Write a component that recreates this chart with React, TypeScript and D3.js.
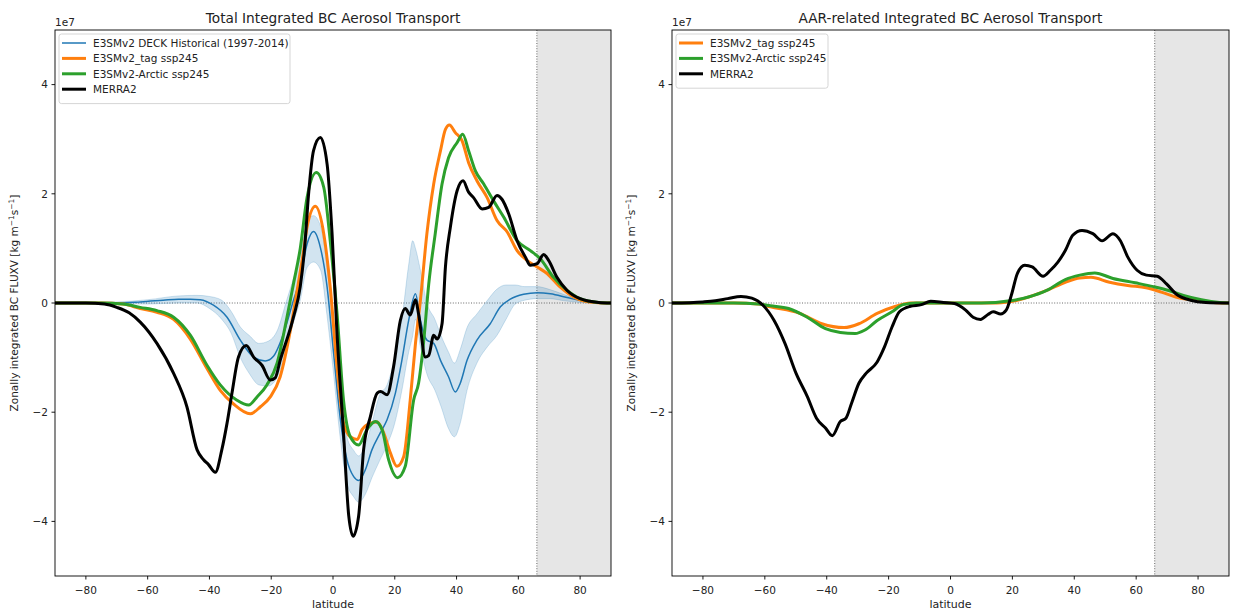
import React from "react";
import * as d3 from "d3";

const W = 1238;
const H = 611;
const FONT = "'DejaVu Sans', sans-serif";

// ---- Axis ticks ----
const xTicks = [-80, -60, -40, -20, 0, 20, 40, 60, 80];
const yTicks = [-4, -2, 0, 2, 4];
const arcticCircle = 66;

// ---- Total transport (values in units of 1e7 kg m^-1 s^-1) ----
const deckLat = [-90, -70, -62.4, -55, -50, -46.2, -43, -38.7, -34.3, -30, -25.7, -21.9, -19.2, -16, -12.8, -10.6, -8.4, -6.3, -4.1, -1.9, 0.2, 2.4, 4.5, 6.7, 8.3, 10.5, 12.6, 15.3, 17.5, 20.2, 22.3, 24.5, 26.7, 28.3, 30.4, 32.6, 34.8, 37.4, 39.6, 41.2, 43.4, 46.6, 50.9, 54.2, 57.4, 61.7, 66.1, 70.4, 75.8, 81.2, 86.6, 90];
const deckMean = [0, 0, 0.02, 0.05, 0.07, 0.07, 0.06, -0.04, -0.26, -0.68, -0.99, -1.06, -0.97, -0.56, 0.05, 0.45, 1.08, 1.31, 1.02, 0.29, -0.92, -2.14, -2.87, -3.18, -3.25, -3.05, -2.69, -2.38, -2.14, -1.65, -1.05, -0.32, 0.17, -0.32, -0.68, -0.74, -1.05, -1.35, -1.63, -1.47, -1.05, -0.68, -0.38, -0.07, 0.07, 0.16, 0.19, 0.17, 0.1, 0.03, 0, 0];

const deckBandLat = [-90, -70, -60, -50, -44, -40, -36, -33, -30, -27, -24, -21, -18, -15, -12.5, -10.6, -8.4, -6.3, -4, -2, 0, 2.4, 4.5, 6.7, 8.3, 10.5, 12.6, 15, 17.5, 20, 22.3, 24.5, 25.8, 26.7, 28.3, 30.4, 33, 35, 37.4, 39.3, 41.2, 43.4, 46.6, 50, 53, 56, 59, 62, 66, 70, 75, 80, 85, 90];
const deckLower = [0, -0.01, -0.02, 0.0, 0.0, -0.1, -0.3, -0.55, -1.0, -1.3, -1.5, -1.52, -1.35, -0.8, -0.3, 0.05, 0.65, 0.75, 0.6, -0.2, -1.2, -2.5, -3.3, -3.55, -3.65, -3.5, -3.2, -2.9, -2.6, -2.2, -1.6, -0.9, -0.6, -0.3, -0.8, -1.3, -1.6, -1.9, -2.3, -2.45, -2.2, -1.6, -1.1, -0.8, -0.6, -0.3, -0.02, 0.05, 0.08, 0.08, 0.04, 0.01, 0, 0];
const deckUpper = [0, 0.02, 0.06, 0.13, 0.14, 0.12, 0.05, -0.15, -0.44, -0.6, -0.74, -0.7, -0.5, 0.05, 0.5, 0.85, 1.5, 1.6, 1.4, 0.7, -0.4, -1.7, -2.45, -2.7, -2.8, -2.6, -2.2, -1.7, -1.5, -1.0, -0.3, 0.7, 1.14, 1.0, 0.6, 0.0, -0.3, -0.6, -0.9, -1.1, -0.85, -0.45, -0.2, 0.05, 0.25, 0.33, 0.33, 0.3, 0.3, 0.25, 0.15, 0.06, 0.02, 0];

const tagLat = [-90, -75, -68, -62.4, -57, -51.6, -46.2, -40.8, -36.5, -32.2, -26.8, -23.5, -20.3, -17.1, -13.8, -11.7, -9.5, -8.4, -5.7, -3.0, -0.9, 1.3, 3.4, 5.6, 7.8, 9.4, 12.1, 14.3, 16.4, 18.6, 20.7, 22.9, 25, 26.7, 28.3, 30.4, 32.6, 34.8, 36.4, 37.7, 39.6, 41.8, 43.9, 46.6, 49.9, 53.1, 56.4, 59.6, 62.8, 66.1, 69.3, 73.6, 77.9, 83, 90];
const tagTotal = [0, 0, -0.02, -0.1, -0.17, -0.3, -0.66, -1.2, -1.6, -1.85, -2.03, -1.9, -1.72, -1.35, -0.5, 0.2, 0.96, 1.39, 1.77, 1.27, 0.29, -1.17, -2.2, -2.45, -2.5, -2.32, -2.2, -2.18, -2.38, -2.75, -2.99, -2.81, -1.78, -0.74, 0.05, 1.27, 2.18, 2.79, 3.18, 3.26, 3.12, 2.97, 2.57, 2.24, 1.93, 1.51, 1.3, 0.96, 0.78, 0.66, 0.54, 0.29, 0.11, 0.02, 0];

const arcticLat = [-90, -75, -68, -62.4, -57, -51.6, -46.2, -40.8, -36.5, -31.1, -27.3, -24.6, -21.4, -18.1, -14.9, -12.8, -10.6, -8.4, -5.4, -3, -0.9, 1.3, 3.4, 5.6, 8.3, 11, 13.7, 15.9, 18, 20.9, 23.4, 26.1, 27.7, 29.3, 31, 33.1, 35.3, 37.4, 40.2, 42, 43.9, 46.1, 48.8, 52, 55.3, 59.6, 63.9, 67.1, 71.4, 75.8, 80, 86, 90];
const arcticTotal = [0, 0, -0.02, -0.08, -0.14, -0.26, -0.59, -1.14, -1.5, -1.78, -1.87, -1.72, -1.5, -1.1, -0.26, 0.35, 1.0, 1.93, 2.39, 2.12, 1.14, -0.19, -1.78, -2.45, -2.6, -2.32, -2.17, -2.32, -2.87, -3.2, -2.99, -1.78, -1.47, -0.74, 0.35, 1.27, 2.18, 2.66, 2.94, 3.09, 2.79, 2.42, 2.18, 1.87, 1.57, 1.14, 0.96, 0.81, 0.47, 0.23, 0.08, 0.01, 0];

const merraLat = [-90, -80, -74, -70, -66, -62.4, -57, -51.6, -47.3, -44, -41.9, -40.3, -38.1, -36, -34.3, -32.7, -30.6, -28.1, -25.7, -23, -20.3, -18.7, -17.1, -12.8, -10.6, -9.2, -7.9, -6.3, -4.1, -1.9, -0.3, 1.3, 3.4, 5.1, 6.5, 8.3, 9.9, 12.1, 14.3, 15.4, 17.5, 19.6, 21.8, 23.4, 25, 26.7, 27.7, 29.9, 31, 32.6, 33.7, 35.3, 36.4, 38, 40.2, 42.1, 43.9, 45.5, 48.3, 50.4, 53.1, 54.7, 56.9, 59.6, 62.3, 63.9, 66.1, 68.2, 69.8, 72.5, 75.8, 80, 86, 90];
const merraTotal = [0, 0, -0.02, -0.08, -0.18, -0.35, -0.74, -1.29, -1.9, -2.69, -2.87, -2.96, -3.1, -2.69, -2.2, -1.65, -0.99, -0.78, -0.99, -1.14, -1.41, -1.37, -1.05, -0.26, 0.3, 1.0, 2.0, 2.79, 3.03, 2.54, 1.27, -0.56, -2.38, -3.9, -4.27, -3.9, -2.69, -2.08, -1.65, -1.62, -1.68, -1.17, -0.32, -0.1, -0.22, 0.06, -0.2, -0.99, -0.96, -0.59, -0.66, -0.38, 0.66, 1.39, 2.06, 2.24, 2.03, 1.93, 1.72, 1.75, 1.97, 1.9, 1.63, 1.14, 0.84, 0.69, 0.72, 0.89, 0.78, 0.47, 0.23, 0.08, 0.01, 0];

// ---- AAR-related transport ----
const tagAarLat = [-90, -70, -62, -58.2, -48.7, -41.6, -34.4, -29.6, -23.7, -17.7, -13, 15, 21.6, 31.1, 37.1, 41.8, 45.4, 51.4, 57.3, 63.2, 68.1, 72.8, 78.9, 84.9, 90];
const tagAar = [0, 0, -0.02, -0.07, -0.19, -0.38, -0.45, -0.38, -0.19, -0.06, 0, 0, 0.05, 0.23, 0.38, 0.46, 0.47, 0.38, 0.32, 0.28, 0.2, 0.11, 0.05, 0.01, 0];

const arcticAarLat = [-90, -70, -62, -58.2, -52.3, -46.3, -40.4, -35.6, -30.8, -27.8, -23.7, -18.9, -15.3, -11, 10, 19.2, 25.2, 31.1, 37.1, 41.8, 46.6, 52.5, 59.7, 65.6, 70.5, 75.3, 81.1, 87, 90];
const arcticAar = [0, 0, -0.02, -0.05, -0.1, -0.26, -0.47, -0.54, -0.56, -0.5, -0.32, -0.16, -0.03, 0, 0, 0.04, 0.11, 0.23, 0.43, 0.51, 0.55, 0.45, 0.37, 0.3, 0.23, 0.14, 0.06, 0.01, 0];

const merraAarLat = [-90, -80, -76, -72, -67.7, -64.2, -60.6, -57, -53.5, -49.9, -46.3, -43.3, -40.4, -38.2, -35.6, -33.8, -32, -29.6, -27.3, -23.7, -21.3, -18.9, -16.5, -13, -9.4, -6.4, -2.3, 1.3, 4.9, 7.3, 9.7, 12.1, 13.8, 16.2, 18, 19.8, 21.6, 24, 26.4, 29.9, 32.3, 34.7, 37.1, 39.5, 42.5, 46, 49, 52.5, 54.9, 57.3, 60.3, 63.3, 66.8, 69.8, 72.8, 77.6, 82.5, 90];
const merraAar = [0, 0.02, 0.04, 0.08, 0.12, 0.09, -0.04, -0.32, -0.74, -1.29, -1.71, -2.11, -2.29, -2.43, -2.17, -2.11, -1.84, -1.47, -1.29, -1.08, -0.8, -0.44, -0.16, -0.06, -0.03, 0.03, 0.01, -0.01, -0.13, -0.26, -0.3, -0.21, -0.16, -0.2, -0.13, 0.17, 0.54, 0.69, 0.66, 0.49, 0.6, 0.75, 0.96, 1.24, 1.33, 1.27, 1.14, 1.27, 1.14, 0.84, 0.6, 0.51, 0.49, 0.35, 0.17, 0.05, 0.01, 0];

// ---- Styling ----
const C_BLUE = "#1f77b4";
const C_ORANGE = "#ff7f0e";
const C_GREEN = "#2ca02c";
const C_BLACK = "#000000";

type Series = { label: string; lat: number[]; val: number[]; color: string; width: number };
type Band = { lat: number[]; lo: number[]; hi: number[]; color: string };

const zip = (a: number[], b: number[]) => a.map((v, i) => [v, b[i]] as [number, number]);

const TOP = 30;
const BOTTOM = 576;

function Panel(props: {
  id: string;
  x0: number;
  x1: number;
  title: string;
  series: Series[];
  band?: Band;
  legendWidth: number;
}) {
  const { id, x0, x1, title, series, band, legendWidth } = props;
  const x = d3.scaleLinear().domain([-90, 90]).range([x0, x1]);
  const y = d3.scaleLinear().domain([-5, 5]).range([BOTTOM, TOP]);
  const line = d3
    .line<[number, number]>()
    .x((d) => x(d[0]))
    .y((d) => y(d[1]))
    .curve(d3.curveMonotoneX);
  const area = d3
    .area<[number, number, number]>()
    .x((d) => x(d[0]))
    .y0((d) => y(d[1]))
    .y1((d) => y(d[2]))
    .curve(d3.curveMonotoneX);
  const cx = (x0 + x1) / 2;
  const cy = (TOP + BOTTOM) / 2;
  const rowH = 15.4;
  const legX = x0 + 4;
  const legY = TOP + 4;
  const legH = 8 + series.length * rowH;
  const fs = 10.5;

  return (
    <g>
      <defs>
        <clipPath id={`clip-${id}`}>
          <rect x={x0} y={TOP} width={x1 - x0} height={BOTTOM - TOP} />
        </clipPath>
      </defs>
      <g clipPath={`url(#clip-${id})`}>
        <rect
          x={x(arcticCircle)}
          y={TOP}
          width={x(90) - x(arcticCircle)}
          height={BOTTOM - TOP}
          fill="#e6e6e6"
        />
        <line
          x1={x(arcticCircle)}
          x2={x(arcticCircle)}
          y1={TOP}
          y2={BOTTOM}
          stroke="#444"
          strokeWidth={0.8}
          strokeDasharray="1,1.6"
        />
        <line
          x1={x0}
          x2={x1}
          y1={y(0)}
          y2={y(0)}
          stroke="#444"
          strokeWidth={0.8}
          strokeDasharray="1,1.6"
        />
        {band && (
          <path
            d={area(band.lat.map((l, i) => [l, band.lo[i], band.hi[i]] as [number, number, number])) || ""}
            fill={band.color}
            fillOpacity={0.2}
            stroke={band.color}
            strokeOpacity={0.2}
            strokeWidth={1}
          />
        )}
        {series.map((s) => (
          <path
            key={s.label}
            d={line(zip(s.lat, s.val)) || ""}
            fill="none"
            stroke={s.color}
            strokeWidth={s.width}
            strokeLinejoin="round"
            strokeLinecap="round"
          />
        ))}
      </g>

      {/* spines */}
      <rect x={x0} y={TOP} width={x1 - x0} height={BOTTOM - TOP} fill="none" stroke="#000" strokeWidth={0.9} />

      {/* x axis */}
      {xTicks.map((t) => (
        <g key={`xt${t}`}>
          <line x1={x(t)} x2={x(t)} y1={BOTTOM} y2={BOTTOM + 3.5} stroke="#000" strokeWidth={0.9} />
          <text x={x(t)} y={BOTTOM + 17.5} textAnchor="middle" fontSize={fs} fontFamily={FONT} fill="#222">
            {d3.format("d")(t).replace("-", "\u2212")}
          </text>
        </g>
      ))}
      <text x={cx} y={BOTTOM + 32} textAnchor="middle" fontSize={11} fontFamily={FONT} fill="#222">
        latitude
      </text>

      {/* y axis */}
      {yTicks.map((t) => (
        <g key={`yt${t}`}>
          <line x1={x0 - 3.5} x2={x0} y1={y(t)} y2={y(t)} stroke="#000" strokeWidth={0.9} />
          <text x={x0 - 7} y={y(t)} dy="0.36em" textAnchor="end" fontSize={fs} fontFamily={FONT} fill="#222">
            {d3.format("d")(t).replace("-", "\u2212")}
          </text>
        </g>
      ))}
      <text x={x0} y={TOP - 4.5} fontSize={fs} fontFamily={FONT} fill="#222">
        1e7
      </text>
      <text
        transform={`translate(${x0 - 37},${cy}) rotate(-90)`}
        textAnchor="middle"
        fontSize={fs}
        fontFamily={FONT}
        fill="#222"
      >
        Zonally integrated BC FLUXV [kg m
        <tspan dy="-4" fontSize={7.5}>{"\u22121"}</tspan>
        <tspan dy="4">s</tspan>
        <tspan dy="-4" fontSize={7.5}>{"\u22121"}</tspan>
        <tspan dy="4">]</tspan>
      </text>

      {/* title */}
      <text x={cx} y={TOP - 7} textAnchor="middle" fontSize={13.7} fontFamily={FONT} fill="#222">
        {title}
      </text>

      {/* legend */}
      <rect
        x={legX}
        y={legY}
        width={legendWidth}
        height={legH}
        rx={2.5}
        fill="#fff"
        fillOpacity={0.8}
        stroke="#d0d0d0"
        strokeWidth={0.9}
      />
      {series.map((s, i) => {
        const ly = legY + 9 + i * rowH;
        return (
          <g key={`lg${s.label}`}>
            <line x1={legX + 3} x2={legX + 27} y1={ly} y2={ly} stroke={s.color} strokeWidth={s.width} />
            <text x={legX + 34} y={ly} dy="0.36em" fontSize={fs} fontFamily={FONT} fill="#222">
              {s.label}
            </text>
          </g>
        );
      })}
    </g>
  );
}

export default function App() {
  const leftSeries: Series[] = [
    { label: "E3SMv2 DECK Historical (1997-2014)", lat: deckLat, val: deckMean, color: C_BLUE, width: 1.5 },
    { label: "E3SMv2_tag ssp245", lat: tagLat, val: tagTotal, color: C_ORANGE, width: 3 },
    { label: "E3SMv2-Arctic ssp245", lat: arcticLat, val: arcticTotal, color: C_GREEN, width: 3 },
    { label: "MERRA2", lat: merraLat, val: merraTotal, color: C_BLACK, width: 3 },
  ];
  const rightSeries: Series[] = [
    { label: "E3SMv2_tag ssp245", lat: tagAarLat, val: tagAar, color: C_ORANGE, width: 3 },
    { label: "E3SMv2-Arctic ssp245", lat: arcticAarLat, val: arcticAar, color: C_GREEN, width: 3 },
    { label: "MERRA2", lat: merraAarLat, val: merraAar, color: C_BLACK, width: 3 },
  ];
  const band: Band = { lat: deckBandLat, lo: deckLower, hi: deckUpper, color: C_BLUE };

  return (
    <svg
      width={W}
      height={H}
      viewBox={`0 0 ${W} ${H}`}
      style={{ position: "absolute", left: 0, top: 0, background: "#fff" }}
    >
      <rect width={W} height={H} fill="#fff" />
      <Panel
        id="total"
        x0={55}
        x1={611}
        title="Total Integrated BC Aerosol Transport"
        series={leftSeries}
        band={band}
        legendWidth={231}
      />
      <Panel
        id="aar"
        x0={672}
        x1={1229}
        title="AAR-related Integrated BC Aerosol Transport"
        series={rightSeries}
        legendWidth={152}
      />
    </svg>
  );
}
